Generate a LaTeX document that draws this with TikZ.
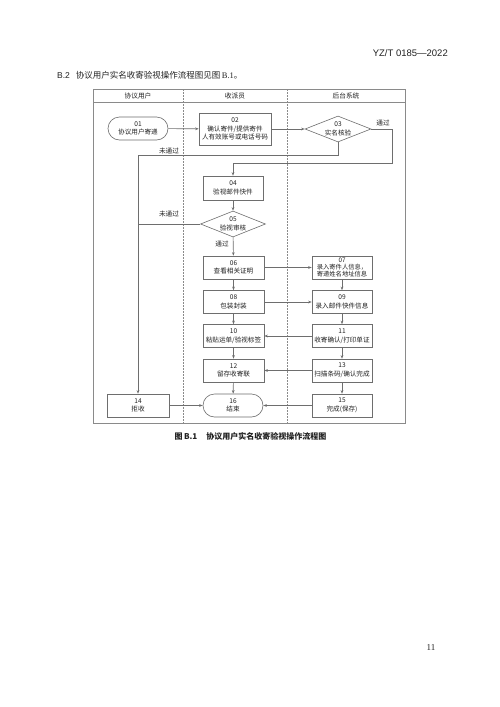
\documentclass[tikz,border=0pt]{standalone}
\usepackage{fontspec}
\setmainfont{Liberation Serif}
\newfontfamily\cjk{Noto Sans CJK SC}
\newfontfamily\hsans{Liberation Sans}
\usetikzlibrary{shapes.geometric,arrows.meta}
\definecolor{lncol}{HTML}{6E6E6E}
\definecolor{frcol}{HTML}{8A8A8A}
\definecolor{txcol}{HTML}{222222}
\begin{document}
\begin{tikzpicture}[x=1pt,y=-1pt,
  every node/.style={text=txcol},
  nt/.style={font=\cjk\fontsize{6.6}{8.7}\selectfont, align=center, inner sep=0pt},
  box/.style={nt, draw=lncol, line width=0.6pt, minimum width=61pt, minimum height=23pt},
  term/.style={box, rounded corners=11.5pt},
  dec/.style={nt, draw=lncol, line width=0.6pt, diamond, aspect=2.5, minimum width=66pt, minimum height=26pt},
  arr/.style={draw=lncol, line width=0.6pt, -{Stealth[length=3.5pt,width=2.6pt]}},
  conn/.style={draw=lncol, line width=0.6pt},
  lbl/.style={font=\cjk\fontsize{6.6}{7}\selectfont, inner sep=0pt},
  hdr/.style={font=\cjk\fontsize{6.7}{7}\selectfont, inner sep=0pt},
  lane/.style={draw=frcol, line width=0.5pt, dash pattern=on 1.6pt off 1.4pt}
]
\fill[white] (0,0) rectangle (500,707);
\useasboundingbox (0,0) rectangle (500,707);

% page header
\node[anchor=east, font=\hsans\fontsize{9.5}{11}\selectfont, inner sep=0pt] (docid) at (448,53) {YZ/T 0185—2022};
\node[anchor=west, font=\fontsize{8.5}{10}\selectfont, inner sep=0pt] (intro) at (57,75)
  {{\hsans B.2}\hspace{6pt}{\cjk 协议用户实名收寄验视操作流程图见图}\,B.1{\cjk 。}};

% frame and lanes
\draw[draw=frcol, line width=0.6pt] (93,89) rectangle (405,423);
\draw[draw=frcol, line width=0.6pt] (93,102) -- (405,102);
\draw[lane] (183,89) -- (183,423);
\draw[lane] (287,89) -- (287,423);
\node[hdr] (h1) at (138,96) {协议用户};
\node[hdr] (h2) at (235,96) {收派员};
\node[hdr] (h3) at (346,96) {后台系统};

% nodes
\node[term, minimum width=60pt] (n01) at (138,128.5) {01\\协议用户寄递};
\node[box, minimum width=72pt, minimum height=32pt] (n02) at (235,129) {02\\确认寄件/提供寄件\\人有效账号或电话号码};
\node[dec] (n03) at (338,129) {03\\实名核验};
\node[box, minimum width=60pt, minimum height=24pt] (n04) at (233,188) {04\\验视邮件快件};
\node[dec, minimum width=65pt] (n05) at (233,224) {05\\验视审核};
\node[box] (n06) at (233.5,267.5) {06\\查看相关证明};
\node[box, minimum width=60pt, font=\cjk\fontsize{6.3}{6.9}\selectfont] (n07) at (342,267.5) {07\\录入寄件人信息，\\寄递姓名地址信息};
\node[box] (n08) at (233.5,302) {08\\包装封装};
\node[box, minimum width=60pt] (n09) at (342,302) {09\\录入邮件快件信息};
\node[box] (n10) at (233.5,336) {10\\粘贴运单/验视标签};
\node[box, minimum width=60pt] (n11) at (342,336) {11\\收寄确认/打印单证};
\node[box] (n12) at (233.5,370.5) {12\\留存收寄联};
\node[box, minimum width=60pt] (n13) at (342,370.5) {13\\扫描条码/确认完成};
\node[box, minimum width=62pt] (n14) at (138,405.5) {14\\拒收};
\node[term, minimum width=60pt] (n16) at (233,405.5) {16\\结束};
\node[box, minimum width=60pt] (n15) at (342,405.5) {15\\完成(保存)};

% helper coordinates
\coordinate (p1) at (392,129);
\coordinate (p2) at (392,163);
\coordinate (p3) at (338,155);
\coordinate (p4) at (138,224);

% connectors
\draw[arr] (n01) -- (n02);
\draw[arr] (n02) -- (n03.west);
\draw[arr] (n03.east) -- (p1) -- (p2) -| (n04.north);
\draw[arr] (n03.south) -- (p3) -| (n14.north);
\draw[conn] (n05.west) -- (p4);
\draw[arr] (n04) -- (n05);
\draw[arr] (n05) -- (n06);
\draw[arr] (n06) -- (n08);
\draw[arr] (n08) -- (n10);
\draw[arr] (n10) -- (n12);
\draw[arr] (n12) -- (n16);
\draw[arr] (n07) -- (n09);
\draw[arr] (n09) -- (n11);
\draw[arr] (n11) -- (n13);
\draw[arr] (n13) -- (n15);
\draw[arr] (n06) -- (n07);
\draw[arr] (n08) -- (n09);
\draw[arr] (n11) -- (n10);
\draw[arr] (n13) -- (n12);
\draw[arr] (n14) -- (n16);
\draw[arr] (n15) -- (n16);

% labels
\node[lbl] (l1) at (383,123) {通过};
\node[lbl] (l2) at (169,151) {未通过};
\node[lbl] (l3) at (169,214) {未通过};
\node[lbl] (l4) at (222,244) {通过};

% caption
\node[font=\cjk\bfseries\fontsize{8}{9}\selectfont, inner sep=0pt] (cap) at (250.5,436) {图\,B.1\hspace{9pt}协议用户实名收寄验视操作流程图};

% page number
\node[font=\fontsize{9}{10}\selectfont, inner sep=0pt] (pg) at (431,648) {11};
\end{tikzpicture}
\end{document}
